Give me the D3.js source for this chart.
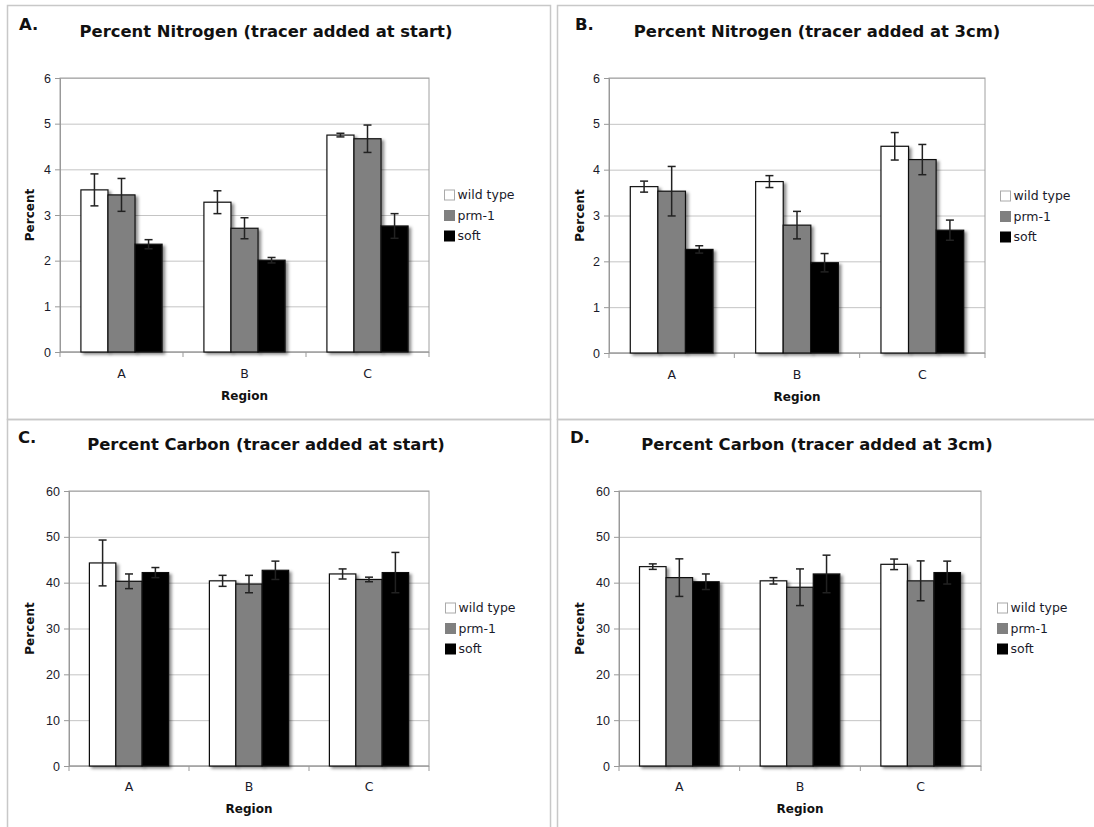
<!DOCTYPE html>
<html>
<head>
<meta charset="utf-8">
<script src="https://cdn.jsdelivr.net/npm/d3@7"></script>
<style>
  body { margin: 0; background: #fff; }
  svg { display: block; font-family: "DejaVu Sans", Verdana, sans-serif; }
</style>
</head>
<body>
<svg id="chart" width="1094" height="827"></svg>
<script>
// categories and series
var regions = ['A', 'B', 'C'];
var seriesNames = ['wild type', 'prm-1', 'soft'];
var seriesFill = ['#ffffff', '#808080', '#000000'];

// percent nitrogen, tracer added at start (one row per series, one value per region)
var nStartMean = [[3.55, 3.28, 4.75], [3.44, 2.71, 4.67], [2.36, 2.01, 2.76]];
var nStartErr = [[0.35, 0.25, 0.04], [0.36, 0.23, 0.30], [0.10, 0.06, 0.27]];

// percent nitrogen, tracer added at 3cm
var n3cmMean = [[3.63, 3.74, 4.51], [3.53, 2.79, 4.22], [2.26, 1.97, 2.68]];
var n3cmErr = [[0.12, 0.13, 0.30], [0.54, 0.30, 0.33], [0.08, 0.20, 0.22]];

// percent carbon, tracer added at start
var cStartMean = [[44.3, 40.4, 41.9], [40.3, 39.7, 40.7], [42.2, 42.7, 42.2]];
var cStartErr = [[5.0, 1.2, 1.1], [1.6, 1.9, 0.5], [1.1, 2.0, 4.4]];

// percent carbon, tracer added at 3cm
var c3cmMean = [[43.5, 40.4, 44.0], [41.1, 39.0, 40.4], [40.2, 41.9, 42.2]];
var c3cmErr = [[0.6, 0.7, 1.15], [4.1, 4.0, 4.35], [1.7, 4.1, 2.5]];

var nTicks = [0, 1, 2, 3, 4, 5, 6];
var cTicks = [0, 10, 20, 30, 40, 50, 60];

var svg = d3.select('#chart');

// soft drop shadow like the old Excel bars
var defs = svg.append('defs');
defs.append('filter')
    .attr('id', 'shadow')
    .attr('x', '-20%').attr('y', '-20%')
    .attr('width', '160%').attr('height', '160%')
  .append('feDropShadow')
    .attr('dx', 2.5).attr('dy', 2)
    .attr('stdDeviation', 1.4)
    .attr('flood-color', '#000')
    .attr('flood-opacity', 0.45);

var panels = [
    { tag: 'A.', title: 'Percent Nitrogen (tracer added at start)', mean: nStartMean, err: nStartErr, ticks: nTicks,
      frame: [7, 5, 543, 414], plot: [60, 78, 429, 352], titleX: 266, titleY: 37, tagX: 19, tagY: 30,
      legX: 444, legY: 195, yLabX: 30, xLabY: 400, tickY: 378 },
    { tag: 'B.', title: 'Percent Nitrogen (tracer added at 3cm)', mean: n3cmMean, err: n3cmErr, ticks: nTicks,
      frame: [557, 5, 560, 414], plot: [609, 78, 985, 353], titleX: 817, titleY: 37, tagX: 575, tagY: 30,
      legX: 1000, legY: 196, yLabX: 580, xLabY: 401, tickY: 379 },
    { tag: 'C.', title: 'Percent Carbon (tracer added at start)', mean: cStartMean, err: cStartErr, ticks: cTicks,
      frame: [7, 419, 543, 420], plot: [69, 491, 429, 766], titleX: 266, titleY: 450, tagX: 18, tagY: 443,
      legX: 445, legY: 608, yLabX: 30, xLabY: 813, tickY: 791 },
    { tag: 'D.', title: 'Percent Carbon (tracer added at 3cm)', mean: c3cmMean, err: c3cmErr, ticks: cTicks,
      frame: [557, 419, 560, 420], plot: [619, 491, 981, 766], titleX: 817, titleY: 450, tagX: 570, tagY: 443,
      legX: 997, legY: 608, yLabX: 580, xLabY: 813, tickY: 791 }
];

panels.forEach(drawPanel);

function drawPanel(p) {
    var g = svg.append('g');
    var left = p.plot[0], top = p.plot[1], right = p.plot[2], bottom = p.plot[3];

    g.append('rect')
        .attr('x', p.frame[0] + 0.5).attr('y', p.frame[1] + 0.5)
        .attr('width', p.frame[2]).attr('height', p.frame[3])
        .attr('fill', 'none')
        .attr('stroke', '#c8c8c8')
        .attr('stroke-width', 1.5);

    var x0 = d3.scaleBand().domain(regions).range([left, right]).paddingInner(0.34).paddingOuter(0.17);
    var x1 = d3.scaleBand().domain(seriesNames).range([0, x0.bandwidth()]);
    var y = d3.scaleLinear().domain([0, d3.max(p.ticks)]).range([bottom, top]);

    // gridlines
    g.append('g')
        .attr('transform', 'translate(' + left + ',0)')
        .call(d3.axisLeft(y).tickValues(p.ticks).tickSize(-(right - left)).tickFormat(''))
        .call(function (a) {
            a.select('.domain').remove();
            a.selectAll('line').attr('stroke', '#c4c4c4');
        });

    // plot border
    g.append('rect')
        .attr('x', left).attr('y', top)
        .attr('width', right - left).attr('height', bottom - top)
        .attr('fill', 'none')
        .attr('stroke', '#a0a0a0');

    // y axis
    g.append('g')
        .attr('transform', 'translate(' + left + ',0)')
        .call(d3.axisLeft(y).tickValues(p.ticks).tickFormat(d3.format('d')).tickSize(5).tickPadding(4))
        .call(function (a) {
            a.select('.domain').attr('stroke', '#999');
            a.selectAll('line').attr('stroke', '#999');
            a.selectAll('text').attr('font-size', 12.5).attr('fill', '#1a1a2a');
        });

    // x axis: ticks between the regions
    var bounds = d3.range(regions.length + 1).map(function (i) { return left + i * x0.step(); });
    g.append('line')
        .attr('x1', left).attr('x2', right)
        .attr('y1', bottom).attr('y2', bottom)
        .attr('stroke', '#999');
    g.selectAll('.xtick')
        .data(bounds)
        .enter().append('line')
        .attr('x1', function (d) { return d; }).attr('x2', function (d) { return d; })
        .attr('y1', bottom).attr('y2', bottom + 5)
        .attr('stroke', '#999');
    g.selectAll('.xlab')
        .data(regions)
        .enter().append('text')
        .attr('x', function (d) { return x0(d) + x0.bandwidth() / 2; })
        .attr('y', p.tickY)
        .attr('text-anchor', 'middle')
        .attr('font-size', 12.5)
        .attr('fill', '#1a1a2a')
        .text(function (d) { return d; });

    // bars
    var rows = [];
    seriesNames.forEach(function (s, si) {
        regions.forEach(function (r, ri) {
            rows.push({ s: s, si: si, r: r, v: p.mean[si][ri], e: p.err[si][ri] });
        });
    });

    g.append('g')
        .selectAll('rect')
        .data(rows)
        .enter().append('rect')
        .attr('x', function (d) { return x0(d.r) + x1(d.s); })
        .attr('y', function (d) { return y(d.v); })
        .attr('width', x1.bandwidth())
        .attr('height', function (d) { return bottom - y(d.v); })
        .attr('fill', function (d) { return seriesFill[d.si]; })
        .attr('stroke', '#111')
        .attr('stroke-width', 1.2)
        .attr('filter', 'url(#shadow)');

    // error bars
    var eb = g.append('g').selectAll('g')
        .data(rows)
        .enter().append('g')
        .attr('stroke', '#222')
        .attr('stroke-width', 1.5);
    var cx = function (d) { return x0(d.r) + x1(d.s) + x1.bandwidth() / 2; };
    eb.append('line')
        .attr('x1', cx).attr('x2', cx)
        .attr('y1', function (d) { return y(d.v + d.e); })
        .attr('y2', function (d) { return y(d.v - d.e); });
    [1, -1].forEach(function (sign) {
        eb.append('line')
            .attr('x1', function (d) { return cx(d) - 4; })
            .attr('x2', function (d) { return cx(d) + 4; })
            .attr('y1', function (d) { return y(d.v + sign * d.e); })
            .attr('y2', function (d) { return y(d.v + sign * d.e); });
    });

    // titles
    g.append('text')
        .attr('x', p.tagX).attr('y', p.tagY)
        .attr('font-size', 16.5).attr('font-weight', 'bold')
        .attr('fill', '#111')
        .text(p.tag);
    g.append('text')
        .attr('x', p.titleX).attr('y', p.titleY)
        .attr('text-anchor', 'middle')
        .attr('font-size', 16.4).attr('font-weight', 'bold')
        .attr('fill', '#111')
        .text(p.title);
    g.append('text')
        .attr('transform', 'translate(' + p.yLabX + ',' + ((top + bottom) / 2) + ') rotate(-90)')
        .attr('text-anchor', 'middle')
        .attr('dy', '0.35em')
        .attr('font-size', 12).attr('font-weight', 'bold')
        .attr('fill', '#111')
        .text('Percent');
    g.append('text')
        .attr('x', (left + right) / 2).attr('y', p.xLabY)
        .attr('text-anchor', 'middle')
        .attr('font-size', 12).attr('font-weight', 'bold')
        .attr('fill', '#111')
        .text('Region');

    // legend
    var leg = g.append('g').selectAll('g')
        .data(seriesNames)
        .enter().append('g')
        .attr('transform', function (d, i) { return 'translate(' + p.legX + ',' + (p.legY + i * 20.5) + ')'; });
    leg.append('rect')
        .attr('x', 0.5).attr('y', -5)
        .attr('width', 10).attr('height', 10)
        .attr('fill', function (d, i) { return seriesFill[i]; })
        .attr('stroke', function (d, i) { return i === 0 ? '#aaa' : seriesFill[i]; });
    leg.append('text')
        .attr('x', 13.5).attr('y', 0)
        .attr('dy', '0.35em')
        .attr('font-size', 12.5)
        .attr('fill', '#1a1a2a')
        .text(function (d) { return d; });
}
</script>
</body>
</html>
